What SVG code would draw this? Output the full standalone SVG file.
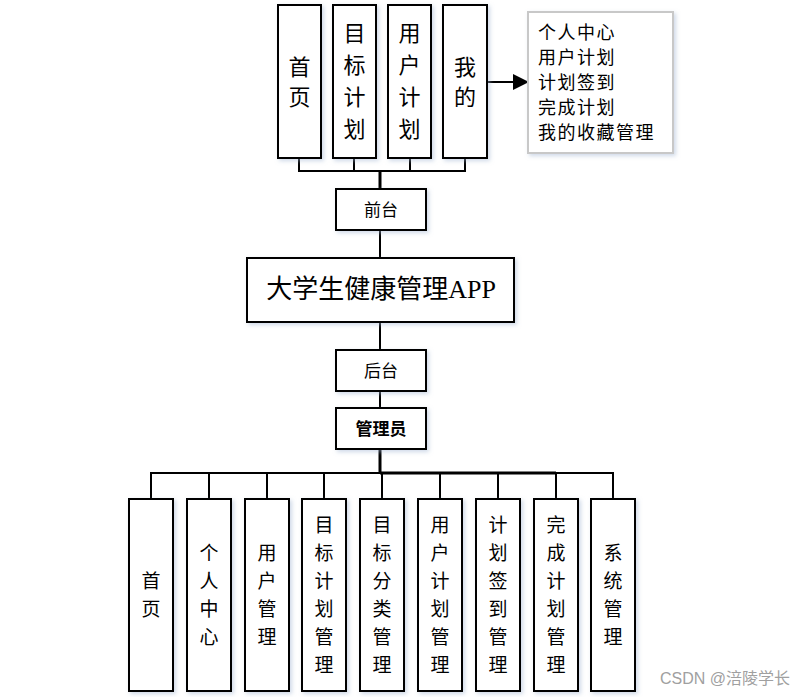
<svg xmlns="http://www.w3.org/2000/svg" width="812" height="697" viewBox="0 0 812 697">
<defs>
<filter id="sh" x="-20%" y="-20%" width="150%" height="150%">
<feDropShadow dx="2" dy="2" stdDeviation="2" flood-color="#9fb4d0" flood-opacity="0.5"/>
</filter>
<marker id="arr" markerWidth="16" markerHeight="16" refX="15" refY="8" orient="auto" markerUnits="userSpaceOnUse">
<path d="M0,0 L16,8 L0,16 Z" fill="#000"/>
</marker>
</defs>
<style>
.box{fill:#fff;stroke:#000;stroke-width:2;filter:url(#sh)}
.gbox{fill:#fff;stroke:#c8c8c8;stroke-width:2;filter:url(#sh)}
.t{font-family:"Noto Sans CJK SC","Liberation Sans",sans-serif;fill:#000;text-anchor:middle}
.t23{font-size:22px}
.t20{font-size:19px}
.tl{font-family:"Noto Sans CJK SC","Liberation Sans",sans-serif;fill:#000;font-size:18px;letter-spacing:1.5px}
.ln{stroke:#000;stroke-width:2;fill:none}
.lnb{stroke:#000;stroke-width:3;fill:none}
</style>
<rect width="812" height="697" fill="#fff"/>
<g id="connectors">
<path class="ln" d="M299,158V171M354,158V171M410,158V171M465,158V171M298,171H466"/>
<path class="lnb" d="M380,171V189"/>
<path class="ln" d="M380,230V258M380,322V350M380,391V408"/>
<path class="lnb" d="M380,449V473"/>
<path class="ln" d="M150,473H614M151,473V499M209,473V499M267,473V499M324,473V499M382,473V499M440,473V499M498,473V499M556,473V499M613,473V499"/>
<path class="lnb" d="M380,473H556"/>
<path class="ln" d="M487,82H528" marker-end="url(#arr)"/>
</g>
<g id="top-home">
<rect class="box" x="278" y="5" width="43" height="153"/>
<text class="t t23" x="299.5" y="75">首</text>
<text class="t t23" x="299.5" y="105">页</text>
</g>
<g id="top-goal">
<rect class="box" x="333" y="5" width="43" height="153"/>
<text class="t t23" x="354.5" y="41">目</text>
<text class="t t23" x="354.5" y="73">标</text>
<text class="t t23" x="354.5" y="105">计</text>
<text class="t t23" x="354.5" y="137">划</text>
</g>
<g id="top-userplan">
<rect class="box" x="388" y="5" width="43" height="153"/>
<text class="t t23" x="409.5" y="41">用</text>
<text class="t t23" x="409.5" y="73">户</text>
<text class="t t23" x="409.5" y="105">计</text>
<text class="t t23" x="409.5" y="137">划</text>
</g>
<g id="top-mine">
<rect class="box" x="443" y="5" width="44" height="153"/>
<text class="t t23" x="465" y="75">我</text>
<text class="t t23" x="465" y="105">的</text>
</g>
<g id="mine-list">
<rect class="gbox" x="528" y="12" width="145" height="141"/>
<text class="tl" x="538" y="39">个人中心</text>
<text class="tl" x="538" y="64">用户计划</text>
<text class="tl" x="538" y="89">计划签到</text>
<text class="tl" x="538" y="114">完成计划</text>
<text class="tl" x="538" y="139">我的收藏管理</text>
</g>
<g id="frontend">
<rect class="box" x="336" y="189" width="90" height="41"/>
<text class="t" font-size="17" x="381" y="216">前台</text>
</g>
<g id="app">
<rect class="box" x="247" y="258" width="267" height="64"/>
<text x="381" y="298" text-anchor="middle" font-size="26" font-family="'Liberation Serif','Noto Sans CJK SC',serif">大学生健康管理APP</text>
</g>
<g id="backend">
<rect class="box" x="336" y="350" width="90" height="41"/>
<text class="t" font-size="17" x="381" y="377">后台</text>
</g>
<g id="admin">
<rect class="box" x="336" y="408" width="90" height="41"/>
<text class="t" font-size="17" font-weight="bold" x="381" y="435">管理员</text>
</g>
<g id="b-home">
<rect class="box" x="129" y="499" width="44" height="192"/>
<text class="t t20" x="151" y="588">首</text>
<text class="t t20" x="151" y="616">页</text>
</g>
<g id="b-personal">
<rect class="box" x="187" y="499" width="44" height="192"/>
<text class="t t20" x="209" y="560">个</text>
<text class="t t20" x="209" y="588">人</text>
<text class="t t20" x="209" y="616">中</text>
<text class="t t20" x="209" y="644">心</text>
</g>
<g id="b-user">
<rect class="box" x="245" y="499" width="44" height="192"/>
<text class="t t20" x="267" y="560">用</text>
<text class="t t20" x="267" y="588">户</text>
<text class="t t20" x="267" y="616">管</text>
<text class="t t20" x="267" y="644">理</text>
</g>
<g id="b-goalplan">
<rect class="box" x="302" y="499" width="44" height="192"/>
<text class="t t20" x="324" y="532">目</text>
<text class="t t20" x="324" y="560">标</text>
<text class="t t20" x="324" y="588">计</text>
<text class="t t20" x="324" y="616">划</text>
<text class="t t20" x="324" y="644">管</text>
<text class="t t20" x="324" y="672">理</text>
</g>
<g id="b-goalcat">
<rect class="box" x="360" y="499" width="44" height="192"/>
<text class="t t20" x="382" y="532">目</text>
<text class="t t20" x="382" y="560">标</text>
<text class="t t20" x="382" y="588">分</text>
<text class="t t20" x="382" y="616">类</text>
<text class="t t20" x="382" y="644">管</text>
<text class="t t20" x="382" y="672">理</text>
</g>
<g id="b-userplan">
<rect class="box" x="418" y="499" width="44" height="192"/>
<text class="t t20" x="440" y="532">用</text>
<text class="t t20" x="440" y="560">户</text>
<text class="t t20" x="440" y="588">计</text>
<text class="t t20" x="440" y="616">划</text>
<text class="t t20" x="440" y="644">管</text>
<text class="t t20" x="440" y="672">理</text>
</g>
<g id="b-checkin">
<rect class="box" x="476" y="499" width="44" height="192"/>
<text class="t t20" x="498" y="532">计</text>
<text class="t t20" x="498" y="560">划</text>
<text class="t t20" x="498" y="588">签</text>
<text class="t t20" x="498" y="616">到</text>
<text class="t t20" x="498" y="644">管</text>
<text class="t t20" x="498" y="672">理</text>
</g>
<g id="b-done">
<rect class="box" x="534" y="499" width="44" height="192"/>
<text class="t t20" x="556" y="532">完</text>
<text class="t t20" x="556" y="560">成</text>
<text class="t t20" x="556" y="588">计</text>
<text class="t t20" x="556" y="616">划</text>
<text class="t t20" x="556" y="644">管</text>
<text class="t t20" x="556" y="672">理</text>
</g>
<g id="b-system">
<rect class="box" x="591" y="499" width="44" height="192"/>
<text class="t t20" x="613" y="560">系</text>
<text class="t t20" x="613" y="588">统</text>
<text class="t t20" x="613" y="616">管</text>
<text class="t t20" x="613" y="644">理</text>
</g>
<text x="660" y="684" font-size="16" fill="#a0a0a0" font-family="'Liberation Sans','Noto Sans CJK SC',sans-serif">CSDN @涪陵学长</text>
</svg>
